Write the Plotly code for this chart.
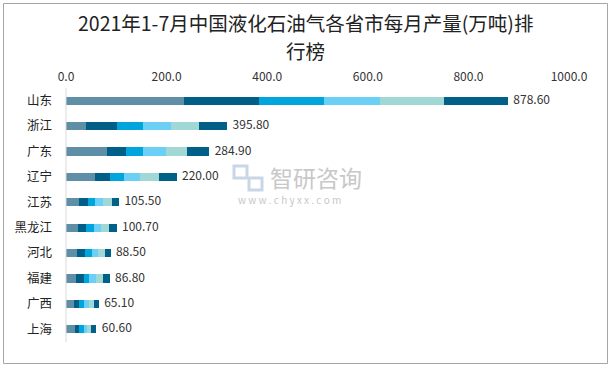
import plotly.graph_objects as go

provinces = ["山东", "浙江", "广东", "辽宁", "江苏", "黑龙江", "河北", "福建", "广西", "上海"]
totals = [878.60, 395.80, 284.90, 220.00, 105.50, 100.70, 88.50, 86.80, 65.10, 60.60]
month_names = ["1-2月", "3月", "4月", "5月", "6月", "7月"]
m12 = [234.6, 40.5, 82.4, 57.0, 26.5, 24.7, 22.5, 20.8, 15.1, 18.6]
m3 = [150, 60, 36, 30, 18, 16, 16, 14, 10, 8]
m4 = [128, 52, 34, 28, 14, 14, 14, 10, 10, 10]
m5 = [112, 56, 46, 32, 16, 14, 12, 14, 10, 6]
m6 = [127, 56, 42, 37, 16, 16, 14, 14, 10, 8]
m7 = [127, 56, 44.5, 36, 15, 16, 10, 14, 10, 10]
x_ticks = [0, 200, 400, 600, 800, 1000]
title_lines = ["2021年1-7月中国液化石油气各省市每月产量(万吨)排", "行榜"]

series = [m12, m3, m4, m5, m6, m7]
colors = ["#5E8FA6", "#005F87", "#00A5DE", "#6CCFF6", "#A1D8D5", "#006088"]

W, H = 611, 368
ML, MR, MT, MB = 66, 42, 88, 26

fig = go.Figure()
for name, vals, c in zip(month_names, series, colors):
    fig.add_trace(go.Bar(y=provinces, x=vals, name=name, orientation="h",
                         marker=dict(color=c, line=dict(width=0)), width=0.33))

bar_ends = [sum(v) for v in zip(*series)]
fig.add_trace(go.Scatter(y=provinces, x=bar_ends, mode="text",
                         text=[f"{t:.2f}" for t in totals],
                         texttemplate="  %{text}",
                         textposition="middle right",
                         textfont=dict(size=12, color="#333333", family="Noto Sans CJK SC"),
                         showlegend=False, cliponaxis=False, hoverinfo="skip"))

pw = W - ML - MR
ph = H - MT - MB
def px(x):
    return (x - ML) / pw
def py(y):
    return 1 - (y - MT) / ph

shapes = [
    dict(type="rect", xref="paper", yref="paper", x0=px(3.5), x1=px(607.5), y0=py(363.5), y1=py(3.5),
         line=dict(color="#A6A6A6", width=1), fillcolor="rgba(0,0,0,0)", layer="above"),
    dict(type="line", xref="paper", yref="paper", x0=0, x1=0, y0=0, y1=1,
         line=dict(color="#D9D9D9", width=1), layer="above"),
]
# watermark logo approximation
shapes += [
    dict(type="rect", xref="paper", yref="paper", x0=px(234), x1=px(247), y0=py(178), y1=py(166),
         line=dict(color="#C9D6E6", width=3), fillcolor="rgba(0,0,0,0)"),
    dict(type="rect", xref="paper", yref="paper", x0=px(249), x1=px(262), y0=py(190), y1=py(178),
         line=dict(color="#C9D6E6", width=3), fillcolor="rgba(0,0,0,0)"),
]

annotations = [
    dict(text=title_lines[0], xref="paper", yref="paper", x=px(305.5), y=py(22), xanchor="center",
         yanchor="middle", showarrow=False,
         font=dict(size=19.5, color="#222222", family="Noto Sans CJK SC")),
    dict(text=title_lines[1], xref="paper", yref="paper", x=px(305.5), y=py(50), xanchor="center",
         yanchor="middle", showarrow=False,
         font=dict(size=19.5, color="#222222", family="Noto Sans CJK SC")),
    dict(text="智研咨询", xref="paper", yref="paper", x=px(268), y=py(177), xanchor="left", yanchor="middle",
         showarrow=False, font=dict(size=23, color="#C8C8C8", family="Noto Sans CJK SC")),
    dict(text="w w w . c h y x x . c o m", xref="paper", yref="paper", x=px(236), y=py(199), xanchor="left",
         yanchor="middle", showarrow=False, font=dict(size=10, color="#C8C8C8", family="Noto Sans CJK SC")),
]

fig.update_layout(
    width=W, height=H, barmode="stack", showlegend=False,
    margin=dict(l=ML, r=MR, t=MT, b=MB, autoexpand=False),
    paper_bgcolor="white", plot_bgcolor="white",
    xaxis=dict(side="top", range=[0, 1000], tickvals=x_ticks, ticktext=[f"{v:.1f}" for v in x_ticks],
               showgrid=False, zeroline=False, showline=False, ticks="", automargin=False,
               ticklabelstandoff=4,
               tickfont=dict(size=12, color="#333333", family="Noto Sans CJK SC")),
    yaxis=dict(autorange="reversed", showgrid=False, zeroline=False, showline=False, ticks="",
               automargin=False, ticklabelstandoff=13,
               tickfont=dict(size=12.5, color="#222222", family="Noto Sans CJK SC")),
    shapes=shapes, annotations=annotations,
)

fig.write_html("out.html", config={"displayModeBar": False},
               post_script="document.body.style.margin='0';document.body.style.overflow='hidden';")
